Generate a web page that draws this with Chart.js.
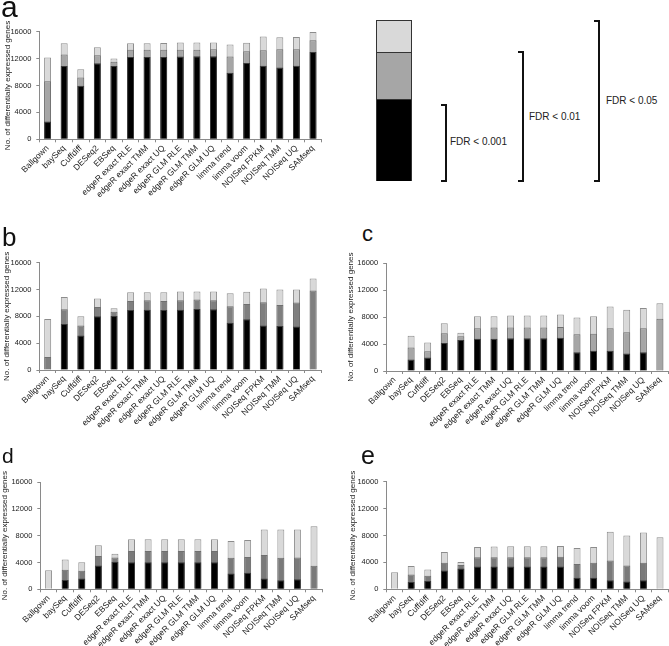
<!DOCTYPE html>
<html>
<head>
<meta charset="utf-8">
<script src="https://cdn.jsdelivr.net/npm/chart.js@4.4.1/dist/chart.umd.min.js"></script>
<style>
  html, body { margin: 0; padding: 0; background: #fff; }
  body { width: 669px; height: 646px; position: relative; overflow: hidden; font-family: 'Liberation Sans', Arial, sans-serif; }
  canvas { position: absolute; }
  .lbl { position: absolute; line-height: 1; color: #111; }
  .brk { position: absolute; border: 2.5px solid #111; border-left: none; box-sizing: border-box; width: 6px; }
  .fdr { position: absolute; font-size: 10px; color: #222; line-height: 1; transform: translateY(-50%); white-space: nowrap; }
</style>
</head>
<body>
<canvas id="ca"></canvas>
<canvas id="cb"></canvas>
<canvas id="cc"></canvas>
<canvas id="cd"></canvas>
<canvas id="ce"></canvas>

<div class="lbl" style="left:1px; top:-8px; font-size:30px;">a</div>
<div class="lbl" style="left:2px; top:224px; font-size:26px;">b</div>
<div class="lbl" style="left:362px; top:223px; font-size:22px;">c</div>
<div class="lbl" style="left:2px; top:445px; font-size:21px;">d</div>
<div class="lbl" style="left:361px; top:443px; font-size:25px;">e</div>

<!-- legend graphic -->
<div style="position:absolute; left:376px; top:20px; width:36px; height:161px; border:1px solid #333; box-sizing:border-box;">
  <div style="height:31px; background:#d9d9d9; border-bottom:1px solid #333;"></div>
  <div style="height:46px; background:#a6a6a6; border-bottom:1px solid #333;"></div>
  <div style="height:81px; background:#000;"></div>
</div>
<div class="brk" style="left:441px; top:104px; height:78px;"></div>
<div class="brk" style="left:518px; top:51px; height:131px;"></div>
<div class="brk" style="left:594px; top:20px; height:162px;"></div>
<div class="fdr" style="left:450px; top:142px;">FDR &lt; 0.001</div>
<div class="fdr" style="left:529px; top:117px;">FDR &lt; 0.01</div>
<div class="fdr" style="left:606px; top:101px;">FDR &lt; 0.05</div>

<script>
// ---------- data ----------
const categories = ["Ballgown", "baySeq", "Cuffdiff", "DESeq2", "EBSeq",
  "edgeR exact RLE", "edgeR exact TMM", "edgeR exact UQ", "edgeR GLM RLE",
  "edgeR GLM TMM", "edgeR GLM UQ", "limma trend", "limma voom",
  "NOISeq FPKM", "NOISeq TMM", "NOISeq UQ", "SAMseq"];
const yTicks = [0, 4000, 8000, 12000, 16000];
const yTitle = "No. of differentially expressed genes";
const seriesNames = ["FDR < 0.001", "FDR < 0.01", "FDR < 0.05"];

// panel a (cumulative counts at each FDR threshold)
const a_fdr0001 = [2650, 10900, 7950, 11300, 10900, 12250, 12250, 12250, 12300, 12350, 12350, 9880, 11350, 10950, 10680, 10920, 13000];
const a_fdr001  = [8650, 12600, 9200, 12480, 11550, 13330, 13320, 13320, 13330, 13330, 13400, 12310, 13100, 13250, 13400, 13400, 14730];
const a_fdr005  = [12150, 14270, 10420, 13670, 12000, 14270, 14300, 14330, 14380, 14380, 14380, 14100, 14370, 15280, 15170, 15230, 15970];

// panel b
const b_fdr0001 = [0, 6850, 5150, 8000, 8050, 8950, 9000, 8950, 9000, 9100, 9050, 7050, 7550, 6650, 6550, 6500, 0];
const b_fdr001  = [1950, 9050, 6650, 9400, 8700, 10300, 10400, 10300, 10400, 10500, 10400, 9500, 9850, 10100, 9700, 10050, 11850];
const b_fdr005  = [7600, 10900, 8000, 10650, 9200, 11600, 11600, 11600, 11700, 11700, 11700, 11450, 11650, 12150, 12000, 12000, 13650];

// panel c
const c_fdr0001 = [0, 1700, 2000, 4150, 4600, 4800, 4800, 4850, 4850, 4850, 4950, 2800, 3000, 3000, 2600, 2800, 0];
const c_fdr001  = [0, 3500, 2950, 5600, 5150, 6350, 6450, 6450, 6450, 6450, 6550, 5450, 5550, 6350, 5750, 6350, 7750];
const c_fdr005  = [0, 5250, 4250, 7100, 5700, 8150, 8150, 8250, 8250, 8250, 8400, 7950, 8150, 9600, 9100, 9350, 10050];

// panel d
const d_fdr0001 = [0, 1400, 1600, 3550, 4100, 4050, 4050, 4050, 4050, 4050, 4050, 2350, 2450, 1600, 1350, 1500, 0];
const d_fdr001  = [0, 2900, 2750, 4950, 4750, 5700, 5700, 5700, 5700, 5700, 5700, 4700, 4800, 5100, 4700, 4750, 3500];
const d_fdr005  = [2850, 4450, 4050, 6550, 5300, 7450, 7450, 7450, 7450, 7450, 7450, 7200, 7350, 8900, 8900, 8900, 9400];

// panel e
const e_fdr0001 = [0, 1100, 1250, 2800, 3100, 3400, 3400, 3400, 3400, 3400, 3400, 1700, 1700, 1350, 1150, 1350, 0];
const e_fdr001  = [0, 2200, 2000, 3950, 3600, 4750, 4750, 4750, 4750, 4750, 4850, 3750, 3950, 4300, 3550, 3950, 0];
const e_fdr005  = [2550, 3450, 2950, 5550, 4050, 6300, 6350, 6400, 6400, 6400, 6450, 6150, 6300, 8550, 8000, 8450, 7750];

// ---------- layout / style ----------
const FONT = "'Liberation Sans', Arial, sans-serif";
const AXIS = '#8a8a8a';
const panels = [
  { id: 'ca', s: [a_fdr0001, a_fdr001, a_fdr005], gray: '#a6a6a6', cx: 0,  cy: 20,  cw: 330, ch: 190, L: 39.3, T: 31.7, B: 139.3, tx: 7.5 },
  { id: 'cb', s: [b_fdr0001, b_fdr001, b_fdr005], gray: '#7f7f7f', cx: 0,  cy: 250, cw: 330, ch: 195, L: 39.4, T: 262.7, B: 370, tx: 6.8 },
  { id: 'cc', s: [c_fdr0001, c_fdr001, c_fdr005], gray: '#a6a6a6', cx: 330, cy: 250, cw: 339, ch: 195, L: 386.2, T: 263.3, B: 371, tx: 350.5 },
  { id: 'cd', s: [d_fdr0001, d_fdr001, d_fdr005], gray: '#7a7a7a', cx: -4, cy: 465, cw: 334, ch: 181, L: 40.3, T: 482, B: 589.3, tx: 4.5 },
  { id: 'ce', s: [e_fdr0001, e_fdr001, e_fdr005], gray: '#7a7a7a', cx: 330, cy: 465, cw: 339, ch: 181, L: 386.3, T: 481.7, B: 589.3, tx: 352.5 }
];
const PLOT_W = 282;

panels.forEach(p => {
  const cv = document.getElementById(p.id);
  cv.width = p.cw; cv.height = p.ch;
  cv.style.left = p.cx + 'px'; cv.style.top = p.cy + 'px';
  cv.style.width = p.cw + 'px'; cv.style.height = p.ch + 'px';

  const titleOffset = 8 * 1.2 / 2 + 2;
  const padLeft = p.tx - p.cx - titleOffset;
  const yW = p.L - p.cx - padLeft;
  const R = p.L + PLOT_W;
  const padRight = p.cx + p.cw - R;
  const padTop = p.T - p.cy;
  const xH = p.cy + p.ch - p.B;

  const colors = ['#000000', p.gray, '#d9d9d9'];
  const borders = ['#3a3a3a', '#6f6f6f', '#8c8c8c'];
  const datasets = p.s.map((arr, i) => ({
    label: seriesNames[i],
    data: arr,
    backgroundColor: colors[i],
    borderColor: borders[i],
    borderWidth: 1,
    grouped: false,
    order: i,
    barPercentage: 0.42,
    categoryPercentage: 1.0
  }));

  new Chart(cv, {
    type: 'bar',
    data: { labels: categories, datasets },
    options: {
      responsive: false,
      animation: false,
      devicePixelRatio: 1,
      layout: { padding: { left: padLeft, right: padRight, top: padTop, bottom: 0 } },
      plugins: { legend: { display: false }, tooltip: { enabled: false } },
      scales: {
        x: {
          offset: true,
          grid: { display: true, offset: true, drawOnChartArea: false, drawTicks: true, tickLength: 3, color: AXIS },
          border: { display: true, color: AXIS, width: 1 },
          ticks: { autoSkip: false, minRotation: 45, maxRotation: 45, padding: 1, color: '#222', font: { family: FONT, size: 8.5 } },
          afterFit: s => { s.height = xH; }
        },
        y: {
          min: 0, max: 16000,
          afterBuildTicks: s => { s.ticks = yTicks.map(v => ({ value: v })); },
          grid: { display: true, drawOnChartArea: false, drawTicks: true, tickLength: 3, color: AXIS },
          border: { display: true, color: AXIS, width: 1 },
          ticks: { padding: 5, color: '#222', font: { family: FONT, size: 7.5 }, callback: v => String(v) },
          title: { display: true, text: yTitle, color: '#222', padding: { top: 2, bottom: 0 }, font: { family: FONT, size: 8 } },
          afterFit: s => { s.width = yW; }
        }
      }
    }
  });
});
</script>
</body>
</html>
